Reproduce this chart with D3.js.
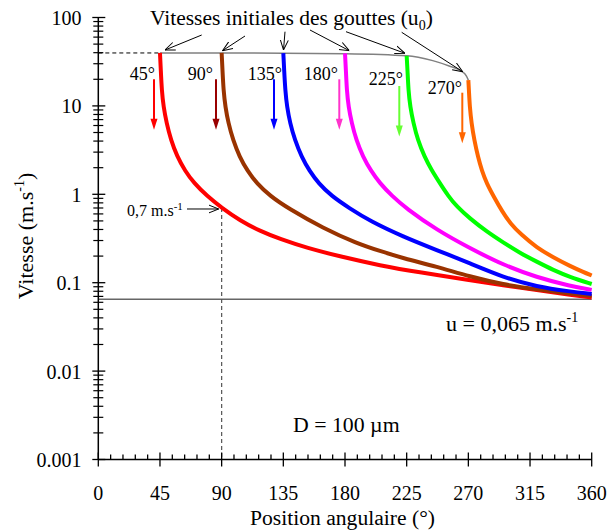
<!DOCTYPE html>
<html><head><meta charset="utf-8">
<script src="https://cdn.jsdelivr.net/npm/d3@7"></script>
<style>
body{margin:0;background:#fff;}
</style></head>
<body><svg id="c" width="614" height="532" font-family="'Liberation Serif', 'Times New Roman', Tinos, 'DejaVu Serif', serif"></svg>
<script>
// ---------- DATA ----------
const xTicks = [0, 45, 90, 135, 180, 225, 270, 315, 360];
const yTicks = [0.001, 0.01, 0.1, 1, 10, 100];
const yTickLabels = ["0.001", "0.01", "0.1", "1", "10", "100"];
const startAngles = [45, 90, 135, 180, 225, 270];
const angleLabels = ["45°", "90°", "135°", "180°", "225°", "270°"];
const curveColors = ["#ff0000", "#993300", "#0000ff", "#ff00ff", "#00ff00", "#ff6600"];
const arrowColors = ["#ff0000", "#990000", "#0000ff", "#ff33cc", "#66ff33", "#ff6600"];

// speed (m/s) vs angular position (deg), one array per starting angle
const red45 = [[45,39.7],[45.6,25.5],[46.3,15.1],[47.6,9.72],[49.8,6.41],[53,4.11],[57.4,2.71],[63.3,1.835],[69.8,1.342],[79.3,0.957],[90.2,0.70],[103.4,0.505],[118,0.384],[132.6,0.312],[152.3,0.247],[176.4,0.198],[205.5,0.1565],[234.7,0.1304],[271.2,0.1073],[295.3,0.093],[320.1,0.0827],[344.2,0.0726],[360,0.068]];
const brown90 = [[90,39.7],[90.6,25.5],[91.35,15.1],[92.7,9.72],[94.9,6.41],[98.3,4.11],[103,2.66],[108.9,1.835],[115.6,1.331],[125.3,0.957],[138.4,0.695],[164.2,0.412],[188.5,0.279],[205.5,0.228],[222.5,0.189],[246.9,0.152],[271.2,0.117],[295.3,0.0954],[320.1,0.0838],[344.2,0.0755],[360,0.0707]];
const blue135 = [[135,39.6],[135.6,25.5],[136.4,15.1],[137.7,9.72],[139.9,6.41],[143.4,4.11],[148.3,2.66],[154.1,1.835],[160.7,1.331],[170.1,0.957],[183.3,0.695],[198.2,0.499],[222.5,0.331],[246.9,0.234],[271.2,0.166],[295.5,0.115],[319.9,0.0901],[344.2,0.0795],[360,0.0745]];
const magenta180 = [[180,39.3],[180.65,25.5],[181.3,15.1],[182.6,9.72],[184.9,6.41],[188.2,4.11],[193.1,2.66],[199,1.835],[205.5,1.331],[214.3,0.957],[224.5,0.695],[246.9,0.395],[271.2,0.245],[295.5,0.1585],[319.9,0.115],[344.2,0.0918],[360,0.083]];
const green225 = [[225,36.7],[225.6,25.5],[226.25,15.1],[227.6,9.72],[229.9,6.41],[233.1,4.11],[238,2.66],[243.1,1.884],[249.3,1.331],[255.1,0.969],[261.5,0.728],[271.2,0.532],[282.9,0.384],[295.5,0.285],[307.7,0.217],[319.9,0.173],[332,0.139],[344.2,0.116],[360,0.0967]];
const orange270 = [[270,19.6],[270.4,15.1],[271.05,9.72],[272.3,6.41],[274.3,4.11],[277,2.66],[279.9,1.835],[283.4,1.331],[288.7,0.932],[294.9,0.631],[300.7,0.467],[308.4,0.351],[319.9,0.25],[332,0.193],[344.2,0.1545],[353.9,0.132],[360,0.1206]];
const series = [red45, brown90, blue135, magenta180, green225, orange270];

// initial-velocity envelope (u0)
const u0Angles = [45, 135, 180, 225, 244, 256, 263.5, 268.5, 270];
const u0Values = [39.7, 39.5, 39, 37, 32.5, 28.3, 25.5, 21.8, 19.6];

const uLimit = 0.065;
const markAngle = 90, markSpeed = 0.7;

// ---------- LAYOUT ----------
const svg = d3.select("#c");
const x = d3.scaleLinear().domain([0, 360]).range([98.3, 591.7]);
const y = d3.scaleLog().domain([0.001, 100]).range([459.5, 17.5]);
const font = 20;

const defs = svg.append("defs");
defs.append("marker").attr("id","open").attr("viewBox","0 0 10 10")
  .attr("refX",10).attr("refY",5).attr("markerWidth",10).attr("markerHeight",10)
  .attr("markerUnits","userSpaceOnUse").attr("orient","auto")
  .append("path").attr("d","M0,1 L10,5 L0,9").attr("fill","none").attr("stroke","#000").attr("stroke-width",1);

// ---------- reference lines ----------
svg.append("line").attr("x1", x(0)).attr("x2", x(360)).attr("y1", y(uLimit)).attr("y2", y(uLimit))
  .attr("stroke","#666").attr("stroke-width",1.5);
svg.append("line").attr("x1", x(markAngle)).attr("x2", x(markAngle)).attr("y1", y(markSpeed)).attr("y2", y(0.001))
  .attr("stroke","#555").attr("stroke-width",1.2).attr("stroke-dasharray","4,3");
svg.append("line").attr("x1", x(0)).attr("x2", x(u0Angles[0])).attr("y1", y(u0Values[0])).attr("y2", y(u0Values[0]))
  .attr("stroke","#000").attr("stroke-width",1).attr("stroke-dasharray","4,3");

const env = u0Angles.map((a,i)=>[a,u0Values[i]]);
svg.append("path").datum(env)
  .attr("d", d3.line().x(d=>x(d[0])).y(d=>y(d[1])).curve(d3.curveMonotoneX))
  .attr("fill","none").attr("stroke","#808080").attr("stroke-width",1.5);

// ---------- curves ----------
const line = d3.line().x(d=>x(d[0])).y(d=>y(d[1])).curve(d3.curveBasis);
series.forEach((s,i)=>{
  svg.append("path").datum(s).attr("d", line)
    .attr("fill","none").attr("stroke", curveColors[i]).attr("stroke-width",4).attr("stroke-linejoin","round");
});

// ---------- axes ----------
const ax = svg.append("g").attr("stroke","#000");
ax.append("line").attr("x1", x(0)).attr("x2", x(360)).attr("y1", y(0.001)).attr("y2", y(0.001)).attr("stroke-width",1.5);
ax.append("line").attr("x1", x(0)).attr("x2", x(0)).attr("y1", y(100)).attr("y2", y(0.001)).attr("stroke-width",1.5);
d3.range(0, 361, 9).forEach(v=>{
  const major = v % 45 === 0;
  ax.append("line").attr("x1", x(v)).attr("x2", x(v))
    .attr("y1", y(0.001) + (major ? 7 : 0)).attr("y2", y(0.001) - (major ? 7 : 5))
    .attr("stroke-width", 1.3);
});
yTicks.forEach((v,i)=>{
  ax.append("line").attr("x1", x(0)-6).attr("x2", x(0)+7).attr("y1", y(v)).attr("y2", y(v)).attr("stroke-width",1.3);
  if (i < yTicks.length-1) {
    for (let k=2;k<=9;k++){
      const m = v*k;
      ax.append("line").attr("x1", x(0)-5).attr("x2", x(0)+5).attr("y1", y(m)).attr("y2", y(m)).attr("stroke-width",1.2);
    }
  }
});
xTicks.forEach(v=>{
  svg.append("text").attr("x", x(v)).attr("y", 500).attr("text-anchor","middle").attr("font-size",font).text(v);
});
yTicks.forEach((v,i)=>{
  svg.append("text").attr("x", 81.5).attr("y", y(v)+7.5).attr("text-anchor","end").attr("font-size",font).text(yTickLabels[i]);
});
svg.append("text").attr("x", 342.5).attr("y", 525).attr("text-anchor","middle").attr("font-size",21.6).text("Position angulaire (°)");
const yt = svg.append("text").attr("transform","translate(33,236) rotate(-90)").attr("text-anchor","middle").attr("font-size",22);
yt.append("tspan").text("Vitesse (m.s");
yt.append("tspan").attr("dy",-9).attr("font-size",14).text("-1");
yt.append("tspan").attr("dy",9).text(")");

// ---------- angle labels and coloured arrows ----------
const labelRight = [155, 213, 282, 338, 403, 462];
const labelBase = [80, 80, 80, 80, 85, 94];
const arrowX = [154, 216, 274, 339.3, 399.3, 462.3];
const arrowTop = [79.3, 79.3, 79.3, 79.3, 86, 92.7];
const arrowLen = 50.5;
startAngles.forEach((a,i)=>{
  svg.append("text").attr("x", labelRight[i]).attr("y", labelBase[i]).attr("text-anchor","end")
    .attr("font-size",18).text(angleLabels[i]);
  const ax0 = arrowX[i], t = arrowTop[i], b = t + arrowLen;
  svg.append("line").attr("x1", ax0).attr("x2", ax0).attr("y1", t).attr("y2", b-9)
    .attr("stroke", arrowColors[i]).attr("stroke-width",2);
  svg.append("path").attr("d", `M${ax0-3.5},${b-11} L${ax0+3.5},${b-11} L${ax0},${b} Z`).attr("fill", arrowColors[i]);
});

// ---------- annotation: initial velocities ----------
const tt = svg.append("text").attr("x",150).attr("y",25).attr("font-size",21.5);
tt.append("tspan").text("Vitesses initiales des gouttes (u");
tt.append("tspan").attr("dy",5).attr("font-size",14).text("0");
tt.append("tspan").attr("dy",-5).text(")");
const annot = [[201.7,35,165,50],[245,36,222.5,50.7],[285,31.7,283.5,50],[310,30,349.3,50.7],[346,31.7,405,53.3],[401.7,32.3,462.7,71.7]];
annot.forEach(d=>{
  svg.append("line").attr("x1",d[0]).attr("y1",d[1]).attr("x2",d[2]).attr("y2",d[3])
    .attr("stroke","#000").attr("stroke-width",1).attr("marker-end","url(#open)");
});

const t7 = svg.append("text").attr("x",127).attr("y",216).attr("font-size",16);
t7.append("tspan").text("0,7 m.s");
t7.append("tspan").attr("dy",-6).attr("font-size",11).text("-1");
svg.append("line").attr("x1",187).attr("y1",y(markSpeed)+1).attr("x2",x(markAngle)-3).attr("y2",y(markSpeed)+1)
  .attr("stroke","#000").attr("stroke-width",1).attr("marker-end","url(#open)");

const tu = svg.append("text").attr("x",446).attr("y",330.5).attr("font-size",22);
tu.append("tspan").text("u = 0,065 m.s");
tu.append("tspan").attr("dy",-9).attr("font-size",14).text("-1");

svg.append("text").attr("x",293).attr("y",431.5).attr("font-size",21.8).text("D = 100 µm");
</script></body></html>
